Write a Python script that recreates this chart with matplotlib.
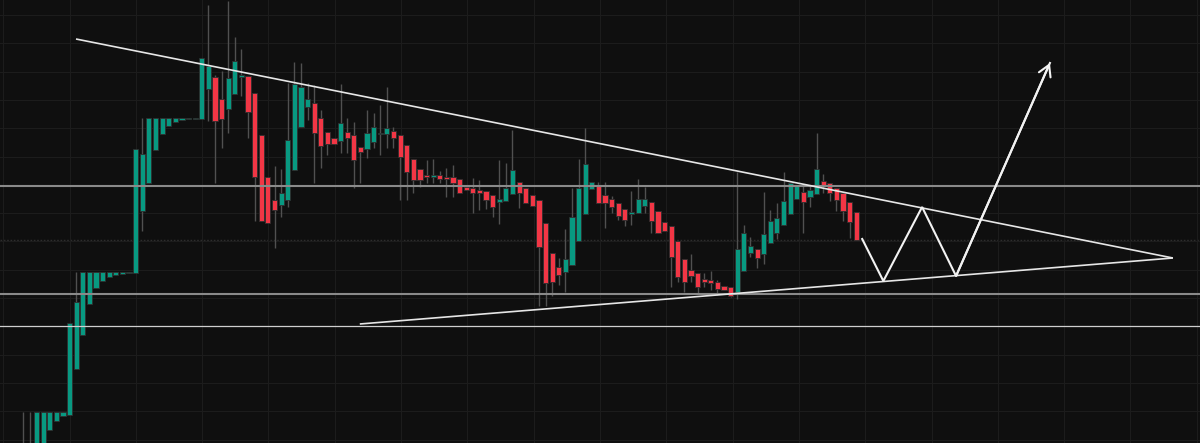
import numpy as np
import matplotlib
matplotlib.use("Agg")
import matplotlib.pyplot as plt

# ---- candle data (arbitrary price units) ----
opens = [-27, -22, -12, -7, 13, 22, 27, 28.5, 74.3, 107.7, 139, 154.7, 162, 166.3, 168.5, 169.5, 170.2, 170.5,
         232, 260.3, 293, 309, 317, 320.7, 323, 323.7, 324.2, 324.3, 354.5, 366, 344, 334.3, 349.3, 365.7,
         366.7, 349.7, 308, 265.7, 243, 238.3, 243, 273, 315.7, 335.7, 340.3, 324.7, 311.3, 304.7, 302, 311,
         308.3, 295.7, 293.7, 301.3, 309, 309, 312, 308, 297.7, 284.3, 273.7, 268, 266.5, 268, 266.3, 265.7,
         263.7, 256.3, 255.3, 253, 251.7, 248, 241.3, 242.3, 249, 260.7, 255.3, 248, 243, 219.7, 190.3, 176.3,
         171.3, 178, 202, 228.7, 253.7, 257, 248.5, 244, 240.3, 233.7, 228.7, 230, 237.3, 240.7, 232, 221,
         217, 202, 184, 173, 170.3, 164, 163, 161, 157.3, 155.7, 151.3, 172.3, 190.3, 193.7, 189, 199.7,
         210.3, 217.7, 229.3, 244, 251, 245.7, 249, 261.7, 260.3, 255.3, 249.7, 241, 231]
closes = [-12, -7, 31, 31, 31, 31, 31, 120.3, 141, 170.7, 170.7, 170.7, 170.7, 170.7, 170.7, 170.7, 170.7, 293.7,
          289, 324.7, 324.7, 324.7, 324.7, 324.7, 324.7, 324.7, 324.7, 384.7, 377, 322.3, 323.7, 365.3, 382,
          367.7, 331.5, 266.3, 222.3, 220.3, 233, 249.7, 302.7, 359, 355.7, 344, 310.3, 297, 299, 299, 319.7,
          305.3, 283, 291.3, 310.3, 315.7, 310.3, 314.7, 304.7, 286.3, 270.7, 263, 263, 266.3, 268, 264.3,
          263.7, 260.3, 249.7, 253, 250.3, 250.3, 243, 235.7, 243.7, 255.3, 273, 249.7, 240.3, 237, 195.7,
          160.3, 161.3, 168, 183.7, 225.7, 254.7, 279, 260.7, 239.7, 240.3, 236.3, 227, 223.3, 231.5, 244.3,
          243.7, 222, 210.3, 212.3, 186.3, 165.7, 161.3, 167.3, 156.3, 161, 159.7, 154.3, 153, 147.3, 193.7,
          209.7, 197, 185, 209, 222, 225, 241.7, 259.7, 257, 241, 253, 274, 258, 250.3, 243, 232, 220.7, 203]
highs = [31, 31, 31, 31, 31, 31, 31, 120.3, 170.7, 170.7, 170.7, 170.7, 170.7, 170.7, 170.7, 170.7, 170.7, 293.7,
         325, 324.7, 324.7, 324.7, 324.7, 324.7, 324.7, 324.7, 324.7, 384.7, 438, 368, 372.3, 442, 405.7,
         393.7, 366.7, 349.7, 308, 265.7, 277, 274.3, 360.3, 381.3, 380.3, 360.3, 358, 333, 311.3, 304.7, 359,
         324.7, 321.3, 295.7, 333, 329.7, 338, 356.3, 316.3, 308, 297.7, 284.3, 273.7, 283, 284, 272, 274.7,
         278, 263.7, 256.3, 264.7, 263, 251.7, 248, 283, 280.3, 313, 260.7, 255.3, 248, 243, 219.7, 190.3,
         184.7, 213.7, 254.7, 283.7, 315, 260.7, 261.3, 260.7, 247.3, 240.3, 233.7, 252, 264.2, 255.7, 240.7,
         232, 221, 217, 202, 184, 188.7, 170.3, 169.7, 172.3, 163, 157.3, 155.7, 271.3, 218, 205.7, 193.7,
         250.7, 233, 239.7, 270.7, 259.7, 257, 257, 258, 310.3, 269, 260.3, 255.3, 249.7, 241, 231]
lows = [-37, -32, -17, -12, 13, 22, 27, 28.5, 74.3, 107.7, 139, 154.7, 162, 166.3, 168.5, 169.5, 170.2, 170.5,
        212, 260.3, 293, 309, 317, 320.7, 323, 323.7, 324.2, 324.3, 322.3, 260.3, 295.3, 310.3, 349.3, 347,
        305.3, 222.3, 222.3, 220.3, 194.7, 226.3, 236.3, 273, 315.7, 323, 259.7, 274.7, 288, 299, 289.7,
        289.7, 254.7, 260.3, 284.7, 294.7, 288, 294.7, 294.7, 243, 243, 250.3, 256.3, 260.3, 260.3, 260.3,
        246.3, 246.3, 249.7, 253, 229.7, 233, 234, 226.3, 218.7, 242.3, 249, 234.7, 240.3, 237, 137, 137,
        147, 158, 151.3, 178, 202, 228.7, 253.7, 239.7, 215, 230, 223, 217, 218, 230, 229.7, 209.7, 210.3,
        212.3, 155.7, 161.3, 151.3, 161.3, 148.7, 156.3, 153, 148, 153, 146, 144, 172.3, 185.7, 175.3, 179,
        199.7, 203.7, 217.7, 229.3, 244, 209.7, 236.3, 249, 249.7, 242.3, 232.3, 222.3, 204.7, 203]

# horizontal price levels
levels_main = [257.5, 149.5]
level_low = [117.0]
dotted_level = [203.0]

# trendlines (bar index, price)
upper_trend_x = [7.97, 173.9]
upper_trend_y = [404.0, 185.0]
lower_trend_x = [50.9, 173.9]
lower_trend_y = [119.0, 185.0]

# projected path (bar index, price)
proj_x = [126.9, 130.1, 135.96, 141.1, 155.3]
proj_y = [204.0, 162.0, 236.0, 167.0, 380.0]

# ---- drawing ----
BG = "#0f0f0f"
UP = "#089981"
DOWN = "#f23645"

fig = plt.figure(figsize=(12, 4.43), dpi=100, facecolor=BG)
ax = fig.add_axes([0, 0, 1, 1], facecolor=BG)
ax.set_xlim(-3.525, 178.0)
ax.set_ylim(0, 443)

# grid
ax.set_xticks(np.arange(-3.03, 180, 10.03))
ax.set_yticks(np.arange(428.0, -1, -28.3))
ax.grid(True, color="#1c1c1c", lw=0.8, zorder=0)
ax.tick_params(length=0, labelbottom=False, labelleft=False)
for s in ax.spines.values():
    s.set_visible(False)

o = np.array(opens, float)
c = np.array(closes, float)
h = np.array(highs, float)
l = np.array(lows, float)
idx = np.arange(len(o))
up = c >= o
colors = np.where(up, UP, DOWN)

# dotted level
for lv in dotted_level:
    ax.axhline(lv, color="#2e2e2e", lw=1.0, ls=(0, (1.2, 1.2)), zorder=1)

# wicks
ax.vlines(idx, l, h, color="#505050", lw=1.0, zorder=2)

# bodies
height = c - o
height = np.where(np.abs(height) < 1.0, np.where(up, 1.0, -1.0), height)
ax.bar(idx, height, bottom=o, width=0.78, color=colors, edgecolor="#2f2f2f",
       linewidth=0.6, zorder=3)

# horizontal levels
for lv in levels_main:
    ax.axhline(lv, color="#8a8a8a", lw=1.5, zorder=4)
for lv in level_low:
    ax.axhline(lv, color="#cfcfcf", lw=0.9, zorder=4)

# trendlines
ax.plot(upper_trend_x, upper_trend_y, color="#e6e6e6", lw=1.2, zorder=5, solid_capstyle="butt")
ax.plot(lower_trend_x, lower_trend_y, color="#e6e6e6", lw=1.2, zorder=5, solid_capstyle="butt")

# projection
ax.plot(proj_x, proj_y, color="#f2f2f2", lw=1.5, zorder=6, solid_joinstyle="miter")
ax.annotate("", xy=(proj_x[-1], proj_y[-1]), xytext=(proj_x[-2], proj_y[-2]),
            arrowprops=dict(arrowstyle="->,head_length=0.6,head_width=0.35", color="#f2f2f2",
                            lw=1.5, shrinkA=0, shrinkB=0, mutation_scale=13), zorder=6)

fig.savefig("out.png", dpi=100, facecolor=BG)
